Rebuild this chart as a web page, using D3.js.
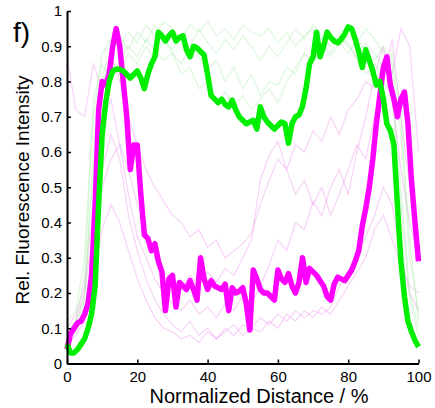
<!DOCTYPE html>
<html>
<head>
<meta charset="utf-8">
<script src="https://cdn.jsdelivr.net/npm/d3@7"></script>
<style>
  body { margin: 0; background: #fff; }
  svg text { font-family: Arial, "Liberation Sans", sans-serif; fill: #000; }
</style>
</head>
<body>
<svg id="chart" width="435" height="408"></svg>
<script>
// x positions in %, 1% steps for the mean curves
var xMain = d3.range(0, 101, 1);
// 2.5% steps for the single cell traces
var xTrace = d3.range(0, 100.01, 2.5);

var greenMean = [
    0.055, 0.03, 0.03, 0.04, 0.055, 0.07, 0.10, 0.14, 0.22, 0.45,
    0.65, 0.74, 0.80, 0.83, 0.835, 0.835, 0.83, 0.82, 0.81, 0.82,
    0.83, 0.81, 0.78, 0.82, 0.85, 0.87, 0.94, 0.93, 0.915, 0.93,
    0.94, 0.915, 0.925, 0.93, 0.89, 0.87, 0.90, 0.895, 0.885, 0.875,
    0.82, 0.76, 0.75, 0.74, 0.75, 0.735, 0.728, 0.747, 0.72, 0.70,
    0.69, 0.68, 0.685, 0.69, 0.665, 0.728, 0.70, 0.685, 0.675, 0.665,
    0.675, 0.685, 0.68, 0.625, 0.68, 0.70, 0.705, 0.73, 0.78, 0.85,
    0.87, 0.94, 0.87, 0.90, 0.94, 0.925, 0.915, 0.91, 0.92, 0.935,
    0.955, 0.95, 0.92, 0.885, 0.84, 0.89, 0.86, 0.83, 0.79, 0.80,
    0.75, 0.68, 0.66, 0.62, 0.45, 0.29, 0.19, 0.12, 0.09, 0.065,
    0.047
];

var magentaMean = [
    0.04, 0.085, 0.10, 0.115, 0.12, 0.14, 0.17, 0.25, 0.45, 0.72,
    0.80, 0.79, 0.82, 0.90, 0.95, 0.90, 0.80, 0.70, 0.55, 0.62,
    0.62, 0.48, 0.365, 0.355, 0.32, 0.34, 0.29, 0.26, 0.15, 0.24,
    0.25, 0.16, 0.23, 0.22, 0.21, 0.235, 0.21, 0.18, 0.30, 0.24,
    0.21, 0.235, 0.22, 0.215, 0.21, 0.225, 0.15, 0.215, 0.20, 0.205,
    0.215, 0.17, 0.095, 0.265, 0.24, 0.21, 0.20, 0.20, 0.19, 0.18,
    0.265, 0.24, 0.23, 0.255, 0.22, 0.20, 0.23, 0.30, 0.23, 0.27,
    0.26, 0.25, 0.235, 0.22, 0.19, 0.18, 0.225, 0.245, 0.24, 0.235,
    0.25, 0.265, 0.29, 0.32, 0.39, 0.44, 0.50, 0.58, 0.68, 0.76,
    0.84, 0.87, 0.79, 0.75, 0.70, 0.75, 0.77, 0.68, 0.52, 0.40,
    0.29
];

// faint single traces, green channel
var greenTraces = [
    [0.10, 0.12, 0.25, 0.70, 0.88, 0.92, 0.90, 0.94, 0.91, 0.96, 0.93, 0.97, 0.95, 0.92, 0.96, 0.94, 0.97, 0.93, 0.95, 0.92, 0.96,
     0.94, 0.93, 0.95, 0.91, 0.94, 0.90, 0.93, 0.95, 0.92, 0.94, 0.90, 0.93, 0.91, 0.95, 0.92, 0.88, 0.80, 0.50, 0.20, 0.10],
    [0.08, 0.10, 0.20, 0.55, 0.80, 0.86, 0.82, 0.88, 0.85, 0.90, 0.86, 0.92, 0.88, 0.85, 0.90, 0.87, 0.83, 0.86, 0.80, 0.84, 0.78,
     0.82, 0.76, 0.80, 0.79, 0.84, 0.82, 0.88, 0.85, 0.90, 0.87, 0.91, 0.88, 0.92, 0.89, 0.86, 0.90, 0.85, 0.65, 0.30, 0.15],
    [0.12, 0.15, 0.30, 0.75, 0.85, 0.80, 0.86, 0.90, 0.87, 0.92, 0.89, 0.86, 0.88, 0.82, 0.84, 0.78, 0.80, 0.74, 0.77, 0.73, 0.76,
     0.72, 0.75, 0.78, 0.74, 0.80, 0.84, 0.88, 0.86, 0.91, 0.88, 0.93, 0.90, 0.87, 0.91, 0.88, 0.84, 0.88, 0.70, 0.35, 0.12],
    [0.06, 0.09, 0.18, 0.60, 0.82, 0.88, 0.93, 0.89, 0.94, 0.91, 0.96, 0.92, 0.89, 0.93, 0.90, 0.95, 0.91, 0.88, 0.92, 0.89, 0.93,
     0.90, 0.86, 0.90, 0.87, 0.91, 0.95, 0.92, 0.96, 0.93, 0.90, 0.94, 0.91, 0.86, 0.82, 0.85, 0.80, 0.76, 0.45, 0.18, 0.08]
];

// faint single traces, magenta channel
var magentaTraces = [
    [0.87, 0.72, 0.70, 0.85, 0.78, 0.88, 0.80, 0.70, 0.62, 0.55, 0.50, 0.46, 0.42, 0.40, 0.36, 0.38, 0.33, 0.35, 0.30, 0.32, 0.34,
     0.37, 0.45, 0.52, 0.58, 0.55, 0.62, 0.60, 0.66, 0.63, 0.70, 0.65, 0.72, 0.75, 0.80, 0.78, 0.85, 0.82, 0.95, 0.90, 0.60],
    [0.10, 0.14, 0.22, 0.45, 0.68, 0.75, 0.62, 0.48, 0.36, 0.30, 0.24, 0.20, 0.17, 0.15, 0.18, 0.14, 0.16, 0.13, 0.17, 0.15, 0.19,
     0.17, 0.22, 0.28, 0.35, 0.32, 0.40, 0.38, 0.46, 0.42, 0.50, 0.55, 0.48, 0.60, 0.70, 0.82, 0.90, 0.75, 0.55, 0.40, 0.30],
    [0.06, 0.09, 0.15, 0.35, 0.55, 0.65, 0.58, 0.42, 0.32, 0.24, 0.18, 0.14, 0.11, 0.09, 0.12, 0.08, 0.10, 0.07, 0.09, 0.11, 0.08,
     0.10, 0.09, 0.12, 0.10, 0.14, 0.12, 0.15, 0.13, 0.16, 0.14, 0.18, 0.22, 0.26, 0.30, 0.38, 0.42, 0.35, 0.28, 0.22, 0.20],
    [0.08, 0.12, 0.20, 0.38, 0.50, 0.58, 0.62, 0.55, 0.45, 0.38, 0.30, 0.26, 0.24, 0.21, 0.25, 0.22, 0.26, 0.23, 0.27, 0.25, 0.30,
     0.35, 0.52, 0.59, 0.63, 0.55, 0.48, 0.52, 0.45, 0.50, 0.42, 0.48, 0.55, 0.62, 0.58, 0.70, 0.80, 0.92, 0.70, 0.50, 0.35],
    [0.05, 0.08, 0.12, 0.25, 0.38, 0.45, 0.40, 0.32, 0.24, 0.18, 0.13, 0.10, 0.09, 0.07, 0.08, 0.06, 0.09, 0.07, 0.10, 0.08, 0.11,
     0.10, 0.13, 0.11, 0.14, 0.12, 0.15, 0.13, 0.15, 0.14, 0.16, 0.22, 0.25, 0.30, 0.36, 0.42, 0.50, 0.45, 0.30, 0.20, 0.15]
];

var xTicks = [0, 20, 40, 60, 80, 100];
var yTicks = [0, 0.1, 0.2, 0.3, 0.4, 0.5, 0.6, 0.7, 0.8, 0.9, 1];

var svg = d3.select("#chart");

var x = d3.scaleLinear().domain([0, 100]).range([67, 418.5]);
var y = d3.scaleLinear().domain([0, 1]).range([363.5, 11]);

function lineFor(xs) {
    return d3.line()
        .x(function(d, i) { return x(xs[i]); })
        .y(function(d) { return y(d); });
}

var plot = svg.append("g").attr("class", "plot");

// faint traces first
plot.selectAll("path.trace-m")
    .data(magentaTraces)
    .enter().append("path")
    .attr("class", "trace-m")
    .attr("d", lineFor(xTrace))
    .attr("fill", "none")
    .attr("stroke", "#f0a8f0")
    .attr("stroke-opacity", 0.5)
    .attr("stroke-width", 1.2);

plot.selectAll("path.trace-g")
    .data(greenTraces)
    .enter().append("path")
    .attr("class", "trace-g")
    .attr("d", lineFor(xTrace))
    .attr("fill", "none")
    .attr("stroke", "#9ee89e")
    .attr("stroke-opacity", 0.35)
    .attr("stroke-width", 1.2);

// mean curves
plot.append("path")
    .datum(magentaMean)
    .attr("d", lineFor(xMain))
    .attr("fill", "none")
    .attr("stroke", "#ff00ff")
    .attr("stroke-width", 5.5)
    .attr("stroke-linejoin", "round");

plot.append("path")
    .datum(greenMean)
    .attr("d", lineFor(xMain))
    .attr("fill", "none")
    .attr("stroke", "#00ee00")
    .attr("stroke-width", 5.5)
    .attr("stroke-linejoin", "round");

// axes, ticks pointing inward
var xAxis = svg.append("g")
    .attr("transform", "translate(0," + y(0) + ")")
    .call(d3.axisBottom(x).tickValues(xTicks)
        .tickSizeInner(-4).tickSizeOuter(0).tickPadding(8)
        .tickFormat(d3.format("d")));

var yAxis = svg.append("g")
    .attr("transform", "translate(" + x(0) + ",0)")
    .call(d3.axisLeft(y).tickValues(yTicks)
        .tickSizeInner(-4).tickSizeOuter(0).tickPadding(5)
        .tickFormat(d3.format("~g")));

[xAxis, yAxis].forEach(function(a) {
    a.select(".domain").attr("stroke-width", 2);
    a.selectAll(".tick line").attr("stroke-width", 1.5);
    a.selectAll(".tick text")
        .style("font-family", "Arial, 'Liberation Sans', sans-serif")
        .style("font-size", "15px");
});

// labels
svg.append("text")
    .attr("x", 259).attr("y", 403)
    .attr("text-anchor", "middle")
    .style("font-size", "20px")
    .text("Normalized Distance / %");

svg.append("text")
    .attr("transform", "translate(29,190) rotate(-90)")
    .attr("text-anchor", "middle")
    .style("font-size", "19px")
    .text("Rel. Fluorescence Intensity");

svg.append("text")
    .attr("x", 13).attr("y", 42)
    .style("font-size", "28px")
    .text("f)");
</script>
</body>
</html>
